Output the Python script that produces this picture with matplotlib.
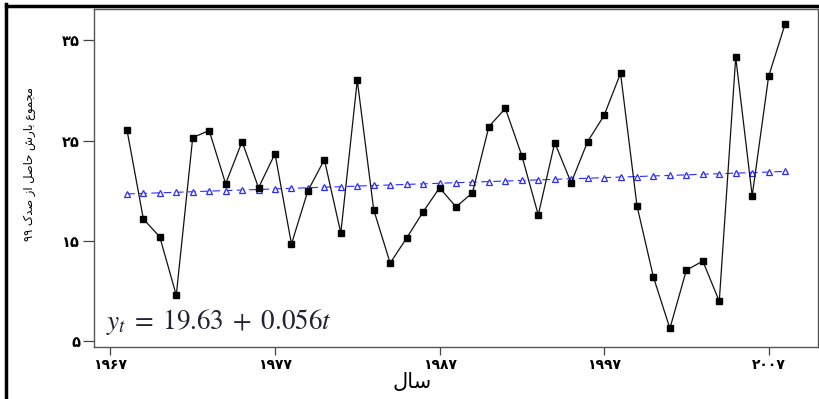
"""
annual total precipitation above the 99th percentile, with linear trend
"""
import matplotlib
matplotlib.use("Agg")
import matplotlib.pyplot as plt
from matplotlib.lines import Line2D

years = list(range(1968, 2009))
precip = [26.1, 17.2, 15.4, 9.6, 25.3, 26.0, 20.7, 24.9, 20.3, 23.7,
          14.7, 20.0, 23.1, 15.8, 31.0, 18.1, 12.8, 15.3, 17.9, 20.3,
          18.4, 19.8, 26.4, 28.2, 23.5, 17.6, 24.8, 20.8, 24.9, 27.5,
          31.7, 18.5, 11.4, 6.3, 12.1, 13.0, 9.0, 33.3, 19.5, 31.4, 36.6]
trend = [19.69, 19.74, 19.80, 19.85, 19.91, 19.97, 20.02, 20.08, 20.13, 20.19,
         20.25, 20.30, 20.36, 20.41, 20.47, 20.53, 20.58, 20.64, 20.69, 20.75,
         20.81, 20.86, 20.92, 20.97, 21.03, 21.09, 21.14, 21.20, 21.25, 21.31,
         21.37, 21.42, 21.48, 21.53, 21.59, 21.65, 21.70, 21.76, 21.81, 21.87, 21.93]

xticks = [1967, 1977, 1987, 1997, 2007]
xtick_labels = ["۱۹۶۷", "۱۹۷۷", "۱۹۸۷", "۱۹۹۷", "۲۰۰۷"]
yticks = [5, 15, 25, 35]
ytick_labels = ["۵", "۱۵", "۲۵", "۳۵"]

# persian text written in visual order with presentation forms (no shaping in mpl)
xlabel = "\uFEDD\uFE8E\uFEB3"  # سال
ylabel = ("۹۹ " + "\u06A9\uFEAA\uFEBB" + " " + "\uFEAF\uFE8D" + " "
          + "\uFEDE\uFEBB\uFE8E\uFEA3" + " " + "\uFEB5\uFEAD\uFE8E\uFE91" + " "
          + "\uFEC9\uFEEE\uFEE4\uFEA0\uFEE3")  # مجموع بارش حاصل از صدک ۹۹

plt.rcParams["font.family"] = ["DejaVu Sans"]
plt.rcParams["mathtext.fontset"] = "stix"

W, H = 820, 399
fig = plt.figure(figsize=(W / 100, H / 100), dpi=100)
ax = fig.add_axes([94 / W, 1 - 347 / H, (818 - 94) / W, (347 - 9) / H])

ax.plot(years, trend, color="#2b2bff", lw=0.8, ls=(0, (7, 4)),
        marker="^", ms=4.8, mfc="white", mec="#2b2bff", mew=0.9, zorder=2)
ax.plot(years, precip, color="#111111", lw=0.9, marker="s", ms=4.3,
        mfc="black", mec="black", zorder=3)

ax.set_xlim(1966.0, 2010.0)
ax.set_ylim(4.45, 38.1)
ax.set_xticks(xticks)
ax.set_xticklabels(xtick_labels, fontsize=10, fontweight="bold")
ax.set_yticks(yticks)
ax.set_yticklabels(ytick_labels, fontsize=10.5, fontweight="bold")
ax.tick_params(axis="x", length=6, width=0.9, color="#444444", pad=2)
ax.tick_params(axis="y", length=8, width=0.9, color="#444444", pad=2)
for s in ax.spines.values():
    s.set_color("#555555")
    s.set_linewidth(1.0)

ax.text(0.017, 0.03, r"$y_t\;=\;19.63\;+\;0.056t$", transform=ax.transAxes,
        fontsize=19.5, color="#222233", ha="left", va="bottom")

fig.text(412 / W, 1 - 382 / H, xlabel, fontsize=15, ha="center", va="center")
fig.text(30 / W, 1 - 164 / H, ylabel, fontsize=8.3, rotation=90,
         ha="center", va="center")

# thick outer frame (top and left edges visible)
fig.add_artist(Line2D([6 / W, 1], [1 - 5.5 / H, 1 - 5.5 / H],
                      transform=fig.transFigure, color="black", lw=2.5))
fig.add_artist(Line2D([6.5 / W, 6.5 / W], [0, 1 - 4 / H],
                      transform=fig.transFigure, color="black", lw=2.5))

fig.savefig("out.png", dpi=100)
